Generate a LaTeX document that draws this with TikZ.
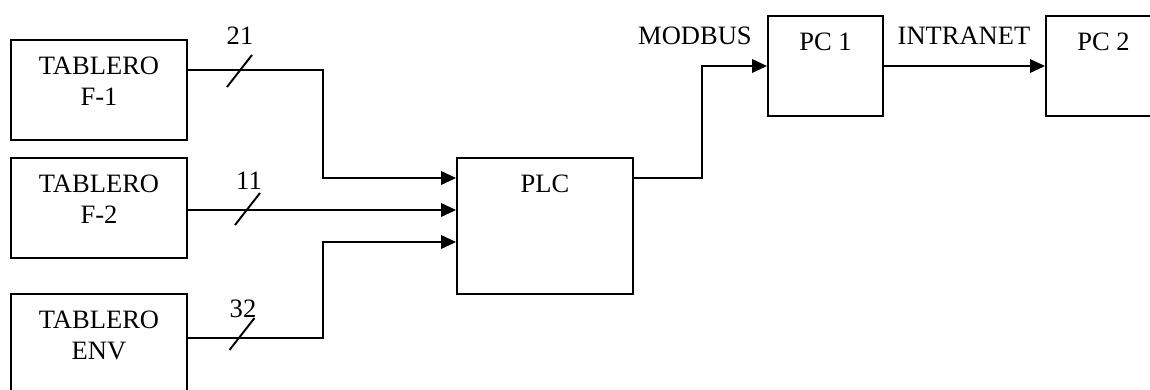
\documentclass[tikz,border=0pt]{standalone}
\usepackage{fontspec}
\setmainfont{Liberation Serif}
\usetikzlibrary{arrows.meta,calc}

\begin{document}
\begin{tikzpicture}[x=0.02cm, y=-0.02cm,
    every node/.style={font=\fontsize{15.1}{17.6}\selectfont},
    unit/.style={draw, line width=1.1pt, minimum width=3.52cm, minimum height=2cm},
    boxtext/.style={anchor=north, align=center, inner sep=0pt, yshift=-0.36cm},
    conn/.style={line width=1.1pt, -{Triangle[length=0.3cm, width=0.27cm]}},
    tick/.style={line width=1.1pt}]
        \clip (0,0) rectangle (1150,389);
        % tableros
        \node[unit, label={[boxtext]north:TABLERO\\F-1}] (f1) at (99,90) {};
        \node[unit, label={[boxtext]north:TABLERO\\F-2}] (f2) at (99,208) {};
        \node[unit, label={[boxtext]north:TABLERO\\ENV}] (env) at (99,344) {};
        % PLC y PCs
        \node[unit, minimum height=2.72cm, label={[boxtext]north:PLC}] (plc) at (545,226) {};
        \node[unit, minimum width=2.3cm, label={[boxtext]north:PC 1}] (pc1) at (825.5,66) {};
        \node[unit, minimum width=2.3cm, label={[boxtext]north:PC 2}] (pc2) at (1103.5,66) {};
        % entradas al PLC
        \coordinate (in1) at ($(plc.west)+(0,-48)$);
        \coordinate (in2) at ($(plc.west)+(0,-16)$);
        \coordinate (in3) at ($(plc.west)+(0,16)$);
        \draw[conn] ($(f1.east)+(0,-20)$) -- ++(135,0) |- (in1);
        \draw[conn] (f2.east |- in2) -- (in2);
        \draw[conn] ($(env.east)+(0,-6)$) -- ++(135,0) |- (in3);
        \draw[conn] ($(plc.east)+(0,-48)$) -- ++(68,0) |- (pc1.west);
        \draw[conn] (pc1.east) -- (pc2.west);
        % marcas de bus
        \draw[tick] (239.5,71) ++(-12.5,16) -- ++(25,-32);
        \draw[tick] (247.5,209) ++(-12.5,16) -- ++(25,-32);
        \draw[tick] (242,334) ++(-12.5,16) -- ++(25,-32);
        \node[inner sep=0pt] (n21) at (240,36) {21};
        \node[inner sep=0pt] (n11) at (249,181) {11};
        \node[inner sep=0pt] (n32) at (243,308.5) {32};
        \node[inner sep=0pt] (modbus) at (695,36) {MODBUS};
        \node[inner sep=0pt] (intranet) at (964,36) {INTRANET};
      \end{tikzpicture}
\end{document}
